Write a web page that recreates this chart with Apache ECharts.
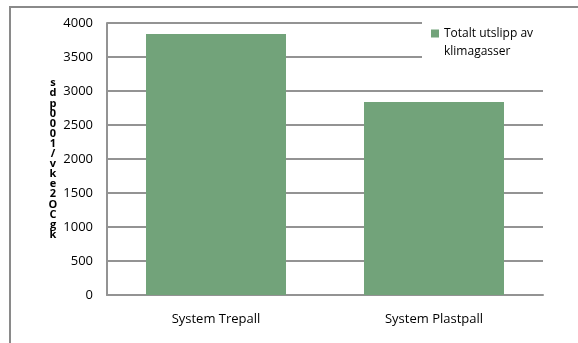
<!DOCTYPE html>
<html>
<head>
<meta charset="utf-8">
<script src="https://cdn.jsdelivr.net/npm/echarts@6/dist/echarts.min.js"></script>
<style>
  html, body { margin: 0; padding: 0; background: #fff; }
  #chart { width: 578px; height: 343px; }
</style>
</head>
<body>
<div id="chart"></div>
<script>
// Climate emissions per pallet system
const categories = ['System Trepall', 'System Plastpall'];
const seriesName = 'Totalt utslipp av\nklimagasser';
const emissions = [3840, 2840];
const yTicks = [0, 500, 1000, 1500, 2000, 2500, 3000, 3500, 4000];
const yAxisTitle = 'kgCO2ekv/1000pds';

const FONT = '"Open Sans", "Noto Sans", sans-serif';
const GRID_GREY = '#939393';

// The axis title is written as a column of characters, last character on top
const stackedTitle = yAxisTitle.split('').reverse().join('\n');

// Legend swatch: an 8x8 square at the top of a 26px tall box, so it lines up
// with the first line of the two-line legend text
const swatchIcon = 'path://M0,0h8v8h-8zM0,26h8';

const chart = echarts.init(document.getElementById('chart'), null, { renderer: 'canvas' });

chart.setOption({
  backgroundColor: '#fff',
  animation: false,
  graphic: [{
    type: 'rect',
    shape: { x: 10, y: 7, width: 600, height: 400 },
    style: { fill: 'none', stroke: '#8a8a8a', lineWidth: 2 },
    silent: true
  }],
  grid: { left: 107, right: 35, top: 23, bottom: 48 },
  legend: {
    data: [{ name: seriesName, icon: swatchIcon }],
    left: 422,
    top: 18,
    orient: 'vertical',
    itemWidth: 8,
    itemHeight: 26,
    backgroundColor: '#fff',
    padding: [6, 20, 8, 9],
    textStyle: {
      fontFamily: FONT,
      fontSize: 12,
      color: '#000',
      lineHeight: 18.5
    }
  },
  xAxis: {
    type: 'category',
    data: categories,
    axisLine: { show: true, lineStyle: { color: GRID_GREY, width: 2 } },
    axisTick: { show: false },
    axisLabel: { fontFamily: FONT, fontSize: 13, color: '#000', margin: 18 }
  },
  yAxis: {
    type: 'value',
    min: yTicks[0],
    max: yTicks[yTicks.length - 1],
    interval: yTicks[1] - yTicks[0],
    name: stackedTitle,
    nameLocation: 'middle',
    nameRotate: 0,
    nameGap: 51,
    nameTextStyle: {
      fontFamily: FONT,
      fontSize: 11,
      fontWeight: 'bold',
      color: '#000',
      lineHeight: 10.1,
      align: 'center'
    },
    axisLine: { show: true, lineStyle: { color: GRID_GREY, width: 2 } },
    axisTick: { show: false },
    axisLabel: {
      fontFamily: FONT,
      fontSize: 13,
      color: '#000',
      margin: 14,
      formatter: (v) => String(v)
    },
    splitLine: { show: true, lineStyle: { color: GRID_GREY, width: 2 } }
  },
  series: [{
    name: seriesName,
    type: 'bar',
    data: emissions,
    barWidth: 140,
    itemStyle: { color: '#72a37a' }
  }]
});
</script>
</body>
</html>
